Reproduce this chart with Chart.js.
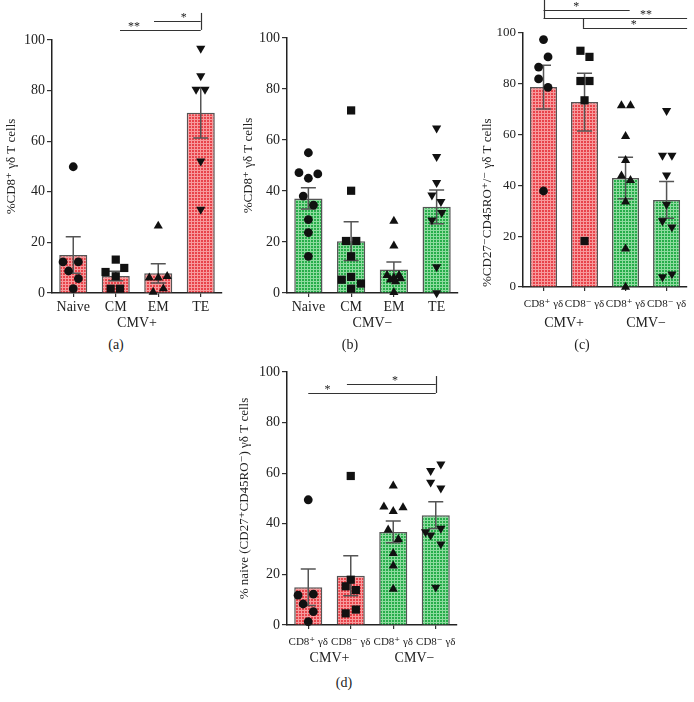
<!DOCTYPE html>
<html><head><meta charset="utf-8">
<script src="https://cdn.jsdelivr.net/npm/chart.js@4/dist/chart.umd.min.js"></script>
<style>
body{margin:0;background:#fff;width:694px;height:702px;position:relative;overflow:hidden;}
canvas{position:absolute;}
.lab{position:absolute;font:14px 'Liberation Serif','DejaVu Serif',serif;color:#222;transform:translate(-50%,-50%);white-space:nowrap;}
</style></head><body>
<canvas id="ca" width="230" height="336" style="left:0;top:0"></canvas>
<canvas id="cb" width="234" height="336" style="left:230px;top:0"></canvas>
<canvas id="cc" width="230" height="336" style="left:464px;top:0"></canvas>
<canvas id="cd" width="240" height="320" style="left:230px;top:350px"></canvas>
<div class="lab" style="left:116px;top:345px">(a)</div>
<div class="lab" style="left:350px;top:345px">(b)</div>
<div class="lab" style="left:582px;top:345px">(c)</div>
<div class="lab" style="left:344px;top:683px">(d)</div>
<script>
// ---------- data ----------
const subsetLabels = ['Naive', 'CM', 'EM', 'TE'];
const cd8Labels = ['CD8\u207A \u03B3\u03B4', 'CD8\u207B \u03B3\u03B4', 'CD8\u207A \u03B3\u03B4', 'CD8\u207B \u03B3\u03B4'];
const yTicks = [0, 20, 40, 60, 80, 100];

// (a) CMV+ : %CD8+ gd T cells
const meanA = [15.0, 6.7, 7.8, 71.2];
const semA  = [7.2, 1.9, 3.8, 9.9];
const ptsA  = [[49.9, 12.3, 12.3, 8.7, 5.7, 1.7],
               [13.2, 8.3, 9.9, 6.6, 1.7, 1.7],
               [26.5, 6.0, 6.0, 6.6, 0.4, 1.7],
               [96.7, 85.8, 80.5, 80.5, 52.1, 33.0]];
const jitA  = [[0, -0.24, 0.12, -0.11, 0.12, 0],
               [0, -0.24, 0.2, 0, -0.12, 0.1],
               [0, -0.21, 0, 0.21, -0.12, 0.12],
               [0, 0, -0.11, 0.1, 0, 0]];

// (b) CMV- : %CD8+ gd T cells
const meanB = [37.1, 20.3, 9.2, 33.8];
const semB  = [4.2, 7.6, 3.0, 6.6];
const ptsB  = [[55.0, 47.2, 46.7, 45.0, 38.0, 34.5, 28.8, 23.7, 14.4],
               [71.6, 40.1, 20.4, 20.4, 14.4, 5.2, 6.3, 3.7, 1.7],
               [28.2, 18.5, 6.9, 6.9, 6.0, 5.2, 5.6, 4.5, 0.3],
               [64.6, 53.5, 43.3, 38.4, 35.8, 28.6, 31.5, 10.2, 0.0]];
const jitB  = [[0, -0.22, 0.22, 0, -0.12, 0.12, 0, 0, 0],
               [0, 0, -0.12, 0.12, 0, -0.22, 0, 0.23, 0],
               [0, 0, -0.16, 0.12, 0, -0.08, 0.16, 0.04, 0],
               [0, 0, 0, -0.11, 0.1, -0.11, 0.12, 0, 0]];

// (c) %CD27-CD45RO+/- gd T cells
const meanC = [78.7, 72.8, 42.9, 34.3];
const semC  = [8.6, 11.4, 8.2, 7.2];
const ptsC  = [[97.4, 90.6, 86.6, 81.9, 78.6, 37.8],
               [93.0, 90.6, 81.1, 81.1, 73.5, 18.1],
               [71.4, 71.4, 59.3, 49.9, 43.8, 42.0, 33.5, 15.0, 0.0],
               [69.4, 51.8, 51.8, 44.0, 32.5, 26.0, 23.6, 4.0, 5.1]];
const jitC  = [[0, 0.11, -0.12, -0.12, 0.11, 0],
               [-0.1, 0.12, -0.1, 0.12, 0, 0],
               [-0.1, 0.12, 0, 0, -0.1, 0.12, 0, 0, 0],
               [0, -0.1, 0.13, 0, 0, -0.1, 0.13, -0.1, 0.13]];

// (d) % naive (CD27+CD45RO-) gd T cells
const meanD = [14.9, 19.5, 36.8, 43.4];
const semD  = [7.2, 7.9, 4.3, 5.3];
const ptsD  = [[49.5, 11.8, 12.2, 8.3, 5.3, 1.3],
               [58.9, 17.9, 15.3, 13.8, 6.1, 4.6],
               [55.0, 46.7, 44.9, 46.4, 37.6, 33.9, 28.3, 23.4, 14.2],
               [63.6, 61.0, 56.4, 54.1, 36.8, 35.5, 38.2, 32.0, 14.9]];
const jitD  = [[0, -0.24, 0.12, -0.12, 0.12, 0],
               [0, 0, -0.12, 0.12, 0.12, -0.12],
               [0, -0.22, 0, 0.23, -0.12, 0.12, 0, 0, 0],
               [0.12, -0.12, -0.12, 0.12, -0.24, -0.12, 0.12, 0.12, 0]];

// ---------- styling ----------
const FF = "'Liberation Serif','DejaVu Serif',serif";
function tilePattern(dark, light){
  const t = document.createElement('canvas'); t.width = 3; t.height = 3;
  const g = t.getContext('2d');
  g.fillStyle = dark; g.fillRect(0,0,3,3);
  g.fillStyle = light; g.fillRect(2,0,1,3); g.fillRect(0,2,3,1);
  return document.createElement('canvas').getContext('2d').createPattern(t,'repeat');
}
const RED = tilePattern('#e8434a', '#f79a9c');
const GREEN = tilePattern('#27ad4a', '#8edb9f');

const annot = {
  id: 'annot',
  afterDatasetDraw(chart, args){
    if (args.meta.type !== 'bar') return;
    const ds = chart.data.datasets[args.index], y = chart.scales.y, ctx = chart.ctx;
    ctx.save(); ctx.strokeStyle = '#555'; ctx.lineWidth = 1.5;
    args.meta.data.forEach((el, i) => {
      const m = ds.data[i], s = ds.sem[i];
      const yt = y.getPixelForValue(m + s), yb = y.getPixelForValue(m - s);
      ctx.beginPath();
      ctx.moveTo(el.x, yt); ctx.lineTo(el.x, yb);
      ctx.moveTo(el.x - 7.5, yt); ctx.lineTo(el.x + 7.5, yt);
      ctx.moveTo(el.x - 7.5, yb); ctx.lineTo(el.x + 7.5, yb);
      ctx.stroke();
    });
    ctx.restore();
  },
  afterDraw(chart, args, o){
    const ctx = chart.ctx, xs = chart.scales.xs, y = chart.scales.y;
    ctx.save();
    ctx.strokeStyle = '#333'; ctx.lineWidth = 1.2; ctx.fillStyle = '#222';
    ctx.textAlign = 'center'; ctx.textBaseline = 'middle';
    ctx.font = '12px ' + FF;
    (o.lines || []).forEach(l => {
      const py = Math.round(y.getPixelForValue(l.y)) + 0.5;
      ctx.beginPath(); ctx.moveTo(xs.getPixelForValue(l.x1), py); ctx.lineTo(xs.getPixelForValue(l.x2), py); ctx.stroke();
      ctx.fillText(l.label, xs.getPixelForValue(l.lx), py - 4);
    });
    (o.vlines || []).forEach(v => {
      const px = Math.round(xs.getPixelForValue(v.x)) + 0.5;
      ctx.beginPath(); ctx.moveTo(px, y.getPixelForValue(v.y1)); ctx.lineTo(px, y.getPixelForValue(v.y2)); ctx.stroke();
    });
    ctx.font = '14px ' + FF;
    (o.groups || []).forEach(g => {
      ctx.fillText(g.text, xs.getPixelForValue((g.from + g.to) / 2), chart.chartArea.bottom + o.groupDy);
    });
    ctx.restore();
  }
};

const shapeDefs = [
  {style:'circle', rot:0, r:4.4},
  {style:'rect', rot:0, r:5.8},
  {style:'triangle', rot:0, r:5.3},
  {style:'triangle', rot:180, r:5.3}
];

function makeChart(id, c){
  const datasets = [{
    type:'bar', data:c.means, sem:c.sems, backgroundColor:c.fills,
    borderColor:'#555', borderWidth:1.5, barPercentage:0.66, categoryPercentage:1,
    grouped:false, order:2
  }];
  c.pts.forEach((arr, i) => {
    const s = shapeDefs[i];
    datasets.push({
      type:'scatter', xAxisID:'xs', yAxisID:'y', order:1, clip:false,
      data: arr.map((v, k) => ({x: i + c.jit[i][k], y: v})),
      pointStyle:s.style, rotation:s.rot, pointRadius:s.r,
      backgroundColor:'#111', borderColor:'#111', borderWidth:0
    });
  });
  return new Chart(document.getElementById(id), {
    type:'bar',
    data:{labels:c.labels, datasets},
    options:{
      responsive:false, animation:false,
      layout:{padding:c.pad},
      plugins:{legend:{display:false}, tooltip:{enabled:false},
        annot:{lines:c.lines, vlines:c.vlines, groups:c.groups, groupDy:c.groupDy}},
      scales:{
        x:{type:'category', offset:true,
           grid:{display:true, drawOnChartArea:false, offset:false, tickLength:4, color:'#333', lineWidth:1.2},
           border:{display:true, color:'#222', width:1.5},
           ticks:{font:{family:FF, size:c.tickSize}, color:'#222', padding:c.tickPad, maxRotation:0, autoSkip:false},
           afterFit(s){ s.height = c.xH; }},
        xs:{type:'linear', display:false, offset:false, min:-0.5, max:3.5, grid:{offset:false}},
        y:{type:'linear', min:0, max:100,
           afterBuildTicks(s){ s.ticks = yTicks.map(v => ({value:v})); },
           grid:{display:true, drawOnChartArea:false, tickLength:5, color:'#333', lineWidth:1.2},
           border:{display:true, color:'#222', width:1.5},
           ticks:{font:{family:FF, size:c.yTickSize}, color:'#222', padding:2},
           title:{display:true, text:c.yTitle, align:c.titleAlign || 'center', font:{family:FF, size:13}, color:'#222', padding:{top:4, bottom:4}},
           afterFit(s){ s.width = c.yW; }}
      }
    },
    plugins:[annot]
  });
}

makeChart('ca', {
  labels:subsetLabels, means:meanA, sems:semA, pts:ptsA, jit:jitA, fills:[RED,RED,RED,RED],
  yTitle:'%CD8\u207A \u03B3\u03B4 T cells', pad:{top:40, right:8, left:0, bottom:0}, yW:52, xH:43,
  tickSize:14, yTickSize:14, tickPad:2, groups:[{text:'CMV+', from:0, to:3}], groupDy:30,
  lines:[{x1:1.1, x2:3, y:104, label:'**', lx:1.43}, {x1:1.9, x2:3, y:107.5, label:'*', lx:2.6}],
  vlines:[{x:3, y1:104, y2:110.7}]
});
makeChart('cb', {
  labels:subsetLabels, means:meanB, sems:semB, pts:ptsB, jit:jitB, fills:[GREEN,GREEN,GREEN,GREEN],
  yTitle:'%CD8\u207A \u03B3\u03B4 T cells', pad:{top:38, right:6, left:7, bottom:0}, yW:50, xH:43,
  tickSize:14, yTickSize:14, tickPad:2, groups:[{text:'CMV\u2212', from:0, to:3}], groupDy:30
});
makeChart('cc', {
  labels:cd8Labels, means:meanC, sems:semC, pts:ptsC, jit:jitC, fills:[RED,RED,GREEN,GREEN],
  yTitle:'%CD27\u207BCD45RO\u207A/\u207B \u03B3\u03B4 T cells', titleAlign:'start',
  pad:{top:33, right:2, left:12, bottom:0}, yW:47, xH:49,
  tickSize:11, yTickSize:13, tickPad:7, groups:[{text:'CMV+', from:0, to:1}, {text:'CMV\u2212', from:2, to:3}], groupDy:36,
  lines:[{x1:0, x2:2.1, y:109.1, label:'*', lx:0.8}, {x1:0, x2:3.5, y:105.9, label:'**', lx:2.5}, {x1:0.96, x2:3.5, y:102, label:'*', lx:2.2}],
  vlines:[{x:0, y1:105.9, y2:113}, {x:0.96, y1:102, y2:105.9}]
});
makeChart('cd', {
  labels:cd8Labels, means:meanD, sems:semD, pts:ptsD, jit:jitD, fills:[RED,RED,GREEN,GREEN],
  yTitle:'% naive (CD27\u207ACD45RO\u207B) \u03B3\u03B4 T cells', pad:{top:22, right:13, left:3, bottom:0}, yW:54, xH:45,
  tickSize:11, yTickSize:14, tickPad:7, groups:[{text:'CMV+', from:0, to:1}, {text:'CMV\u2212', from:2, to:3}], groupDy:33,
  lines:[{x1:0, x2:3, y:91.7, label:'*', lx:0.45}, {x1:0.91, x2:3, y:95.3, label:'*', lx:2.04}],
  vlines:[{x:3, y1:91.7, y2:98.4}]
});
</script>
</body></html>
